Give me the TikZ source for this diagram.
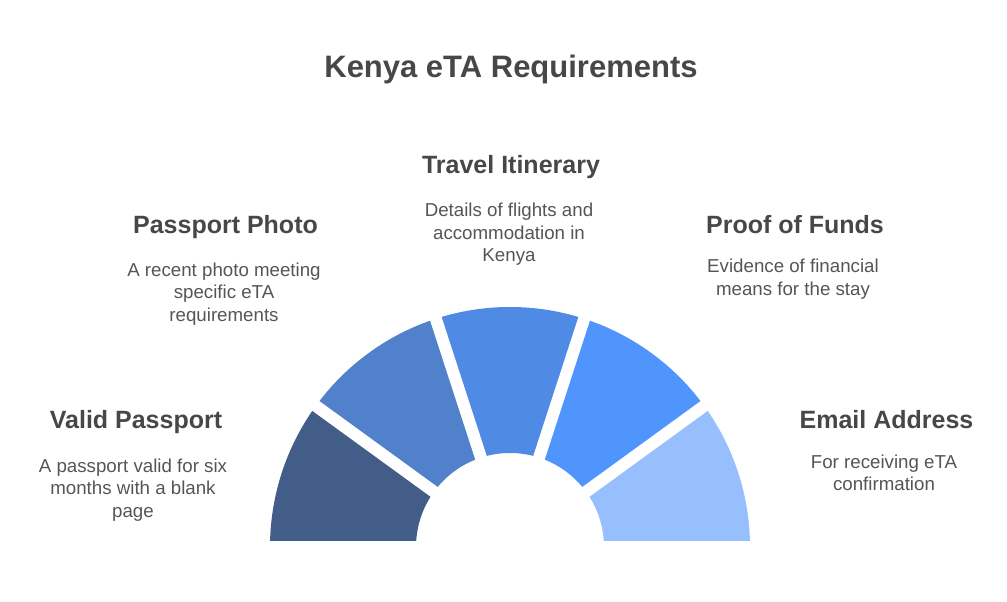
\documentclass[tikz,border=0pt]{standalone}
\usepackage{fontspec}
\setmainfont{Liberation Sans}
\usepackage{tikz}
\usetikzlibrary{positioning}

\begin{document}
\begin{tikzpicture}[x=1pt, y=1pt]
    \definecolor{seg_one}{HTML}{415D88}
    \definecolor{seg_two}{HTML}{5181CA}
    \definecolor{seg_three}{HTML}{4F8AE5}
    \definecolor{seg_four}{HTML}{5094FD}
    \definecolor{seg_five}{HTML}{97BEFD}
    \definecolor{head_grey}{HTML}{474747}
    \definecolor{text_grey}{HTML}{555555}
    \tikzstyle{title}=[inner sep = 0pt, text = head_grey, font = \fontsize{31}{37}\selectfont\bfseries]
    \tikzstyle{head}=[inner sep = 0pt, anchor = base, text = head_grey, font = \fontsize{25}{30}\selectfont\bfseries]
    \tikzstyle{desc}=[inner sep = 0pt, anchor = north, align = center, text = text_grey, font = \fontsize{18.7}{22.5}\selectfont]
    \useasboundingbox (0,0) rectangle (1007,602);
    % half ring
    \begin{scope}[shift = {(510,55)}]
        \foreach \a/\c in {144/seg_one, 108/seg_two, 72/seg_three, 36/seg_four, 0/seg_five}
            \fill[\c] (\a:240) arc[start angle = \a, end angle = \a+36, radius = 240]
                -- (\a+36:94) arc[start angle = \a+36, end angle = \a, radius = 94] -- cycle;
        \foreach \a in {0, 36, 72, 108, 144, 180}
            \draw[white, line width = 12pt] (0,0) -- (\a:255);
    \end{scope}
    % texts
    \node[title, anchor = base] (title) at (511,524) {Kenya eTA Requirements};
    \node[head] (travelhead) at (511,428) {Travel Itinerary};
    \node[desc] (traveldesc) at (509,398.8) {Details of flights and\\accommodation in\\Kenya};
    \node[head] (photohead) at (225.5,368) {Passport Photo};
    \node[desc] (photodesc) at (224,339.5) {A recent photo meeting\\specific eTA\\requirements};
    \node[head] (passhead) at (136,173) {Valid Passport};
    \node[desc] (passdesc) at (133,143.5) {A passport valid for six\\months with a blank\\page};
    \node[head] (fundshead) at (795,368) {Proof of Funds};
    \node[desc] (fundsdesc) at (793,343.2) {Evidence of financial\\means for the stay};
    \node[head] (mailhead) at (886.5,173) {Email Address};
    \node[desc] (maildesc) at (884,147.5) {For receiving eTA\\confirmation};
\end{tikzpicture}
\end{document}
